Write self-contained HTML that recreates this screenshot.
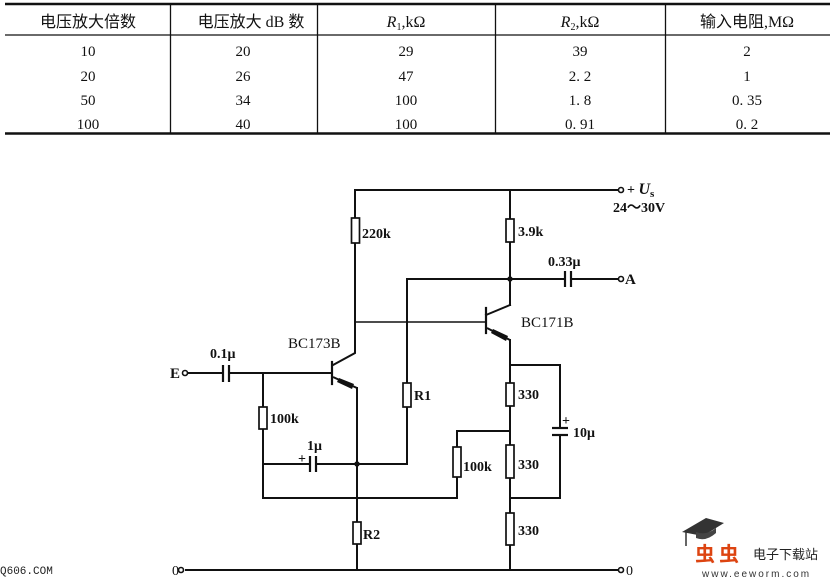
<!DOCTYPE html>
<html><head><meta charset="utf-8"><style>
html,body{margin:0;padding:0;background:#fff;}
svg{display:block;}
.t{font-family:"Liberation Serif","Noto Serif CJK SC",serif;font-size:15px;fill:#111;}
.h{font-family:"Liberation Serif","Noto Sans CJK SC",sans-serif;font-size:16px;fill:#111;}
.l{font-family:"Liberation Serif",serif;font-size:14px;font-weight:bold;fill:#111;}
</style></head><body>
<svg width="834" height="578" viewBox="0 0 834 578" xmlns="http://www.w3.org/2000/svg">
<!-- table -->
<g stroke="#111" fill="none">
<line x1="5" y1="4" x2="830" y2="4" stroke-width="2.6"/>
<line x1="5" y1="35" x2="830" y2="35" stroke-width="1.3"/>
<line x1="5" y1="133.5" x2="830" y2="133.5" stroke-width="2.6"/>
<line x1="170.5" y1="4" x2="170.5" y2="134" stroke-width="1.3"/>
<line x1="317.5" y1="4" x2="317.5" y2="134" stroke-width="1.3"/>
<line x1="495.5" y1="4" x2="495.5" y2="134" stroke-width="1.3"/>
<line x1="665.5" y1="4" x2="665.5" y2="134" stroke-width="1.3"/>
</g>
<g class="h" text-anchor="middle">
<text x="88" y="27">电压放大倍数</text>
<text x="251" y="27">电压放大 dB 数</text>
<text x="406" y="27"><tspan font-style="italic">R</tspan><tspan font-size="10" dy="3">1</tspan><tspan dy="-3">,kΩ</tspan></text>
<text x="580" y="27"><tspan font-style="italic">R</tspan><tspan font-size="10" dy="3">2</tspan><tspan dy="-3">,kΩ</tspan></text>
<text x="747" y="27">输入电阻,MΩ</text>
</g>
<g class="t" text-anchor="middle">
<text x="88" y="56">10</text><text x="243" y="56">20</text><text x="406" y="56">29</text><text x="580" y="56">39</text><text x="747" y="56">2</text>
<text x="88" y="81">20</text><text x="243" y="81">26</text><text x="406" y="81">47</text><text x="580" y="81">2. 2</text><text x="747" y="81">1</text>
<text x="88" y="105">50</text><text x="243" y="105">34</text><text x="406" y="105">100</text><text x="580" y="105">1. 8</text><text x="747" y="105">0. 35</text>
<text x="88" y="129">100</text><text x="243" y="129">40</text><text x="406" y="129">100</text><text x="580" y="129">0. 91</text><text x="747" y="129">0. 2</text>
</g>

<!-- circuit wires -->
<g stroke="#111" stroke-width="2" fill="none" stroke-linecap="square">
<polyline points="355,218 355,190 618,190"/>
<line x1="510" y1="190" x2="510" y2="219"/>
<line x1="510" y1="242" x2="510" y2="305"/>
<polyline points="355,243 355,353 333,365"/>
<polyline points="357,388 357,522"/>
<line x1="357" y1="544" x2="357" y2="570"/>
<polyline points="407,383 407,279 565,279"/>
<line x1="571" y1="279" x2="618" y2="279"/>
<line x1="188" y1="373" x2="223" y2="373"/>
<line x1="229" y1="373" x2="332" y2="373"/>
<line x1="263" y1="373" x2="263" y2="407"/>
<polyline points="263,429 263,498 457,498 457,477"/>
<polyline points="457,447 457,431 510,431"/>
<line x1="263" y1="464" x2="310" y2="464"/>
<polyline points="316,464 407,464 407,407"/>
<polyline points="486,315 510,305"/>
<line x1="510" y1="340" x2="510" y2="383"/>
<line x1="510" y1="406" x2="510" y2="445"/>
<line x1="510" y1="478" x2="510" y2="513"/>
<line x1="510" y1="545" x2="510" y2="570"/>
<polyline points="510,365 560,365 560,428"/>
<polyline points="560,435 560,498 510,498"/>
<line x1="186" y1="570" x2="618" y2="570"/>
<line x1="332" y1="362" x2="332" y2="384" stroke-width="2.2"/>
<line x1="486" y1="308" x2="486" y2="333" stroke-width="2.2"/>
</g>
<line x1="355" y1="322" x2="486" y2="322" stroke="#111" stroke-width="1.4"/>

<g stroke="#111" stroke-width="2" fill="#111">
<line x1="333" y1="377" x2="357" y2="388"/>
<line x1="487" y1="328" x2="510" y2="340"/>
</g>
<polygon points="339,378 354,384 352,389 337,382" fill="#111"/>
<polygon points="493,329 508,336 506,341 491,333" fill="#111"/>

<!-- resistors -->
<g stroke="#111" stroke-width="1.7" fill="#fff">
<rect x="351.5" y="218" width="8" height="25"/>
<rect x="506" y="219" width="8" height="23"/>
<rect x="403" y="383" width="8" height="24"/>
<rect x="259" y="407" width="8" height="22"/>
<rect x="353" y="522" width="8" height="22"/>
<rect x="506" y="383" width="8" height="23"/>
<rect x="506" y="445" width="8" height="33"/>
<rect x="506" y="513" width="8" height="32"/>
<rect x="453" y="447" width="8" height="30"/>
</g>

<!-- capacitors -->
<g stroke="#111" stroke-width="2.2" fill="none">
<line x1="223" y1="365" x2="223" y2="382"/>
<line x1="229" y1="365" x2="229" y2="382"/>
<line x1="310" y1="456" x2="310" y2="472"/>
<line x1="316" y1="456" x2="316" y2="472"/>
<line x1="565" y1="271" x2="565" y2="287"/>
<line x1="571" y1="271" x2="571" y2="287"/>
<line x1="552" y1="428" x2="568" y2="428"/>
<line x1="552" y1="435" x2="568" y2="435"/>
</g>

<g fill="#111">
<circle cx="510" cy="279" r="2.7"/>
<circle cx="357" cy="464" r="2.7"/>
</g>
<g stroke="#111" stroke-width="1.6" fill="#fff">
<circle cx="621" cy="190" r="2.5"/>
<circle cx="621" cy="279" r="2.5"/>
<circle cx="621" cy="570" r="2.5"/>
<circle cx="185" cy="373" r="2.5"/>
<circle cx="181" cy="570" r="2.5"/>
</g>

<!-- labels -->
<g class="l">
<text x="362" y="238">220k</text>
<text x="518" y="236">3.9k</text>
<text x="548" y="266">0.33μ</text>
<text x="625" y="284" font-size="15">A</text>
<text x="627" y="194">+ <tspan font-style="italic" font-size="16">U</tspan><tspan font-size="11" dy="3">s</tspan></text>
<text x="613" y="212">24～30V</text>
<text x="521" y="327" font-weight="normal" font-size="15">BC171B</text>
<text x="288" y="348" font-weight="normal" font-size="15">BC173B</text>
<text x="210" y="358">0.1μ</text>
<text x="170" y="378" font-size="15">E</text>
<text x="414" y="400">R1</text>
<text x="270" y="423">100k</text>
<text x="307" y="450">1μ</text>
<text x="298" y="463">+</text>
<text x="363" y="539">R2</text>
<text x="518" y="399">330</text>
<text x="518" y="469">330</text>
<text x="518" y="535">330</text>
<text x="463" y="471">100k</text>
<text x="562" y="425">+</text>
<text x="573" y="437">10μ</text>
<text x="626" y="575" font-weight="normal">0</text>
<text x="172" y="575" font-weight="normal">0</text>
</g>

<!-- watermark -->
<text x="0" y="574" font-family="Liberation Mono,monospace" font-size="11" fill="#222">Q606.COM</text>
<g>
<polygon points="682,532 706,518 724,523 703,536" fill="#333"/>
<path d="M696,532 Q706,536 716,528 L716,533 Q706,542 696,538 Z" fill="#444"/>
<path d="M686,530 L686,546" stroke="#333" stroke-width="1.5"/>
<text x="695" y="561" font-family="Liberation Sans,'Noto Sans CJK SC',sans-serif" font-size="20" font-weight="bold" fill="#d41">虫</text>
<text x="719" y="561" font-family="Liberation Sans,'Noto Sans CJK SC',sans-serif" font-size="20" font-weight="bold" fill="#d41">虫</text>
<text x="753" y="559" font-family="Liberation Sans,'Noto Sans CJK SC',sans-serif" font-size="13" fill="#222">电子下载站</text>
<text x="702" y="577" font-family="Liberation Sans,sans-serif" font-size="10" letter-spacing="2" fill="#333">www.eeworm.com</text>
</g>
</svg>
</body></html>
